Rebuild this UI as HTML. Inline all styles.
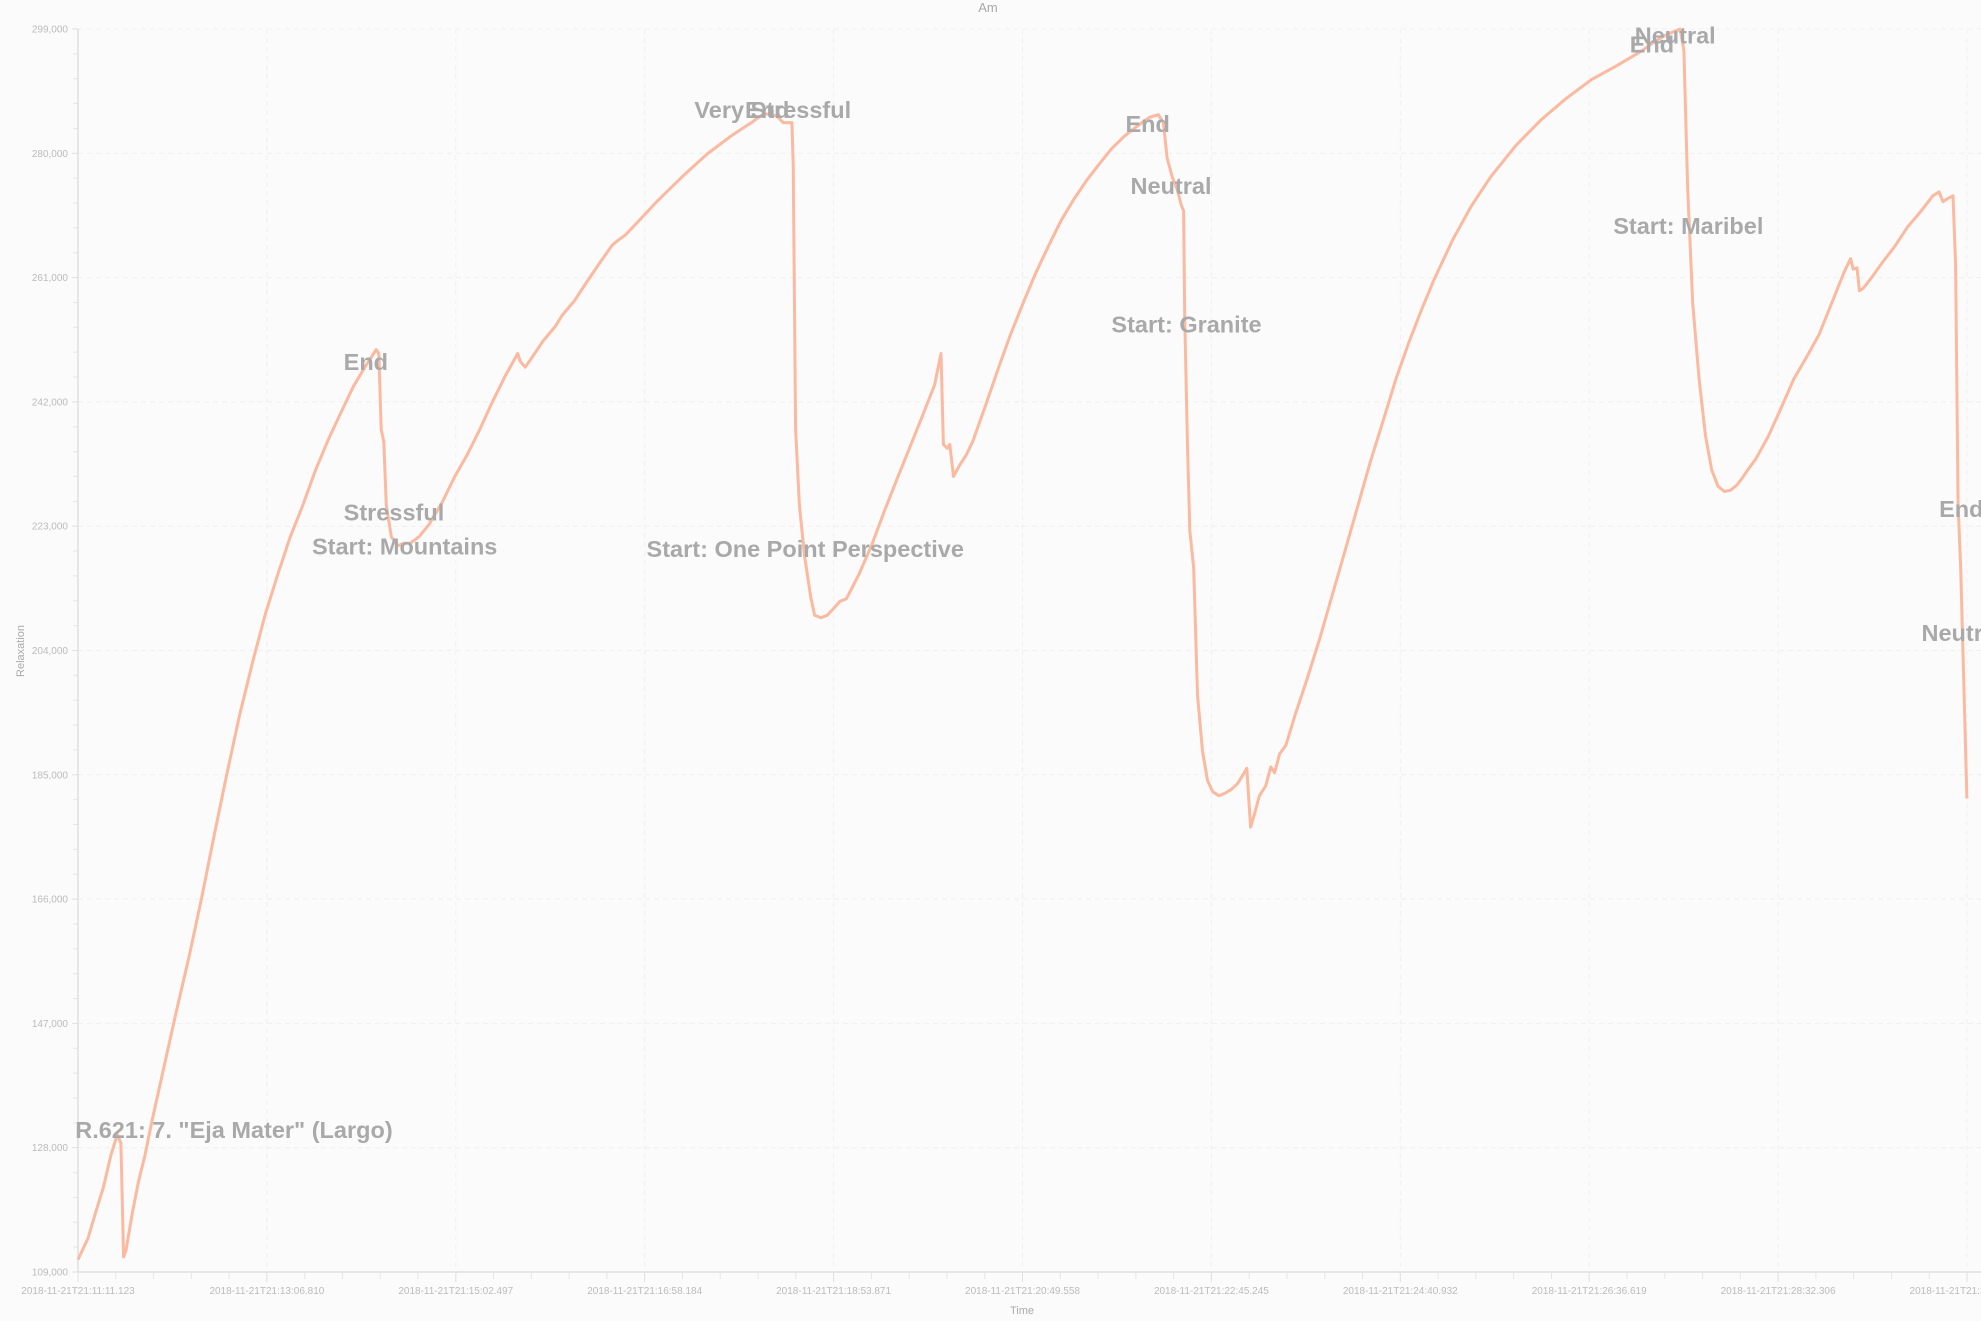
<!DOCTYPE html>
<html><head><meta charset="utf-8"><style>
html,body{margin:0;padding:0;background:#fbfbfb;}
svg{display:block;font-family:"Liberation Sans",sans-serif;}
</style></head><body>
<svg id="chart" width="1981" height="1321" viewBox="0 0 1981 1321" xmlns="http://www.w3.org/2000/svg">
<defs><clipPath id="plotclip"><rect x="73" y="0" width="1908" height="1321"/></clipPath></defs>
<rect width="1981" height="1321" fill="#fbfbfb"/>
<text x="988" y="12" text-anchor="middle" font-size="13" fill="#a8a8a8">Am</text>
<g id="grid"></g>
<g id="axes"></g>
<g id="series" clip-path="url(#plotclip)"></g>
<g id="annots" clip-path="url(#plotclip)"></g>
<text x="1022" y="1314" text-anchor="middle" font-size="11" fill="#aaa">Time</text>
<text x="24" y="651" text-anchor="middle" font-size="11" fill="#aaa" transform="rotate(-90 24 651)">Relaxation</text>
</svg>
<script>
const timeSec = [0,6.2,10.8,15.5,20.1,24.0,26.3,27.9,29.4,33.3,37.1,41.0,44.9,52.6,60.4,68.1,75.8,83.6,91.3,99.0,106.8,114.5,122.3,130.0,137.7,145.5,153.2,160.9,168.7,176.4,182.6,184.2,185.7,187.3,188.8,191.9,195.8,199.6,203.5,208.9,215.1,222.9,230.6,238.3,246.1,253.8,261.5,269.3,270.8,273.9,277.0,284.8,292.5,296.4,304.1,311.8,319.6,327.3,331.2,335.1,342.8,354.4,369.9,385.3,400.8,412.4,420.2,427.9,431.8,437.2,438.0,439.5,441.8,444.9,448.8,451.1,455.0,458.8,462.7,466.6,470.5,474.3,478.2,485.9,493.7,501.4,509.2,516.9,524.6,528.5,530.0,532.4,533.9,536.2,540.1,544.0,547.9,555.6,563.3,571.1,578.8,586.5,594.3,602.0,609.7,617.5,625.2,633.0,640.7,648.4,656.2,661.6,664.7,667.0,670.1,673.2,675.5,677.1,677.8,679.4,680.9,683.3,685.6,688.7,691.8,694.9,698.7,702.6,706.5,710.3,714.2,715.8,718.1,720.4,723.5,727.4,730.5,732.8,735.9,739.7,745.2,752.9,760.6,768.4,776.1,783.9,791.6,799.3,807.1,814.8,822.5,830.3,841.9,853.5,865.1,880.6,896.0,911.5,927.0,942.5,958.0,965.7,971.9,977.3,981.2,983.5,985.8,988.9,992.8,996.7,1000.5,1004.4,1008.3,1012.1,1016.0,1019.9,1023.7,1027.6,1035.3,1043.1,1050.8,1058.5,1066.3,1074.0,1081.7,1085.6,1087.2,1089.5,1091.0,1093.4,1097.2,1105.0,1112.7,1120.4,1128.2,1135.9,1139.8,1142.1,1145.2,1148.3,1149.9,1151.4,1153.0,1156.8];
const relaxK = [110.9,114.2,118.1,121.9,126.8,130.0,128.7,111.3,112.3,118.1,122.9,126.8,131.6,140.3,149.0,157.3,166.3,176.0,185.3,194.2,202.1,209.4,215.6,221.4,226.2,231.6,236.2,240.3,244.4,247.6,250.0,249.4,237.8,235.9,226.2,221.4,220.0,220.4,220.4,221.4,223.3,226.6,230.5,233.9,237.8,242.0,245.9,249.4,248.2,247.3,248.4,251.3,253.6,255.2,257.5,260.4,263.3,266.0,266.8,267.5,269.5,272.6,276.4,279.9,282.8,284.7,286.1,285.7,284.7,284.7,278.3,237.8,226.2,218.5,212.1,209.4,209.0,209.4,210.4,211.5,211.9,213.7,215.6,220.0,225.2,230.1,234.9,239.7,244.6,249.4,235.5,234.9,235.5,230.6,232.4,233.9,235.9,241.3,246.9,252.3,257.1,261.7,265.8,269.7,272.9,275.8,278.3,280.7,282.6,284.1,285.5,285.9,284.7,279.3,276.4,274.5,272.2,271.2,255.2,235.9,222.3,216.6,197.2,188.6,184.1,182.4,181.8,182.2,182.8,183.7,185.3,186.0,177.0,178.9,181.8,183.3,186.2,185.3,188.2,189.5,194.0,199.8,205.9,212.7,219.4,226.2,233.0,239.1,245.5,250.9,255.9,260.6,266.8,272.0,276.4,281.2,285.1,288.4,291.3,293.4,295.7,297.1,298.0,298.6,299.0,295.7,274.5,257.1,245.5,236.8,231.6,229.1,228.3,228.5,229.3,230.6,232.0,233.3,236.8,241.1,245.5,248.8,252.3,257.1,261.9,263.9,262.3,262.5,259.0,259.4,260.6,263.3,265.8,268.7,271.0,273.5,274.1,272.6,273.1,273.5,262.9,226.2,216.6,181.4];
const yTickValues = [109000,128000,147000,166000,185000,204000,223000,242000,261000,280000,299000];
const yTickLabels = ["109,000","128,000","147,000","166,000","185,000","204,000","223,000","242,000","261,000","280,000","299,000"];
const xTickSec = [0,115.687,231.374,347.061,462.748,578.435,694.122,809.809,925.496,1041.183,1156.87];
const xTickLabels = ["2018-11-21T21:11:11.123","2018-11-21T21:13:06.810","2018-11-21T21:15:02.497","2018-11-21T21:16:58.184","2018-11-21T21:18:53.871","2018-11-21T21:20:49.558","2018-11-21T21:22:45.245","2018-11-21T21:24:40.932","2018-11-21T21:26:36.619","2018-11-21T21:28:32.306","2018-11-21T21:30:27.993"];
const annotText = ['Vivaldi: Stabat Mater, R.621: 7. "Eja Mater" (Largo)',"End","Stressful","Start: Mountains","Very Stressful","End","Start: One Point Perspective","End","Neutral","Start: Granite","Neutral","End","Start: Maribel","End","Neutral"];
const annotSec = [192.7,162.7,162.7,143.3,377.5,408.5,348.2,641.5,644.6,632.9,953.4,950.3,940.2,1139.8,1129.0];
const annotValK = [130.7,248.1,225.1,219.9,286.6,286.6,219.5,284.5,275.0,253.8,298.0,296.6,268.9,225.6,206.7];
const annotAnchor = ["end","start","start","start","start","start","start","start","start","start","start","start","start","start","start"];

const NS="http://www.w3.org/2000/svg";
const X0=78,X1=1967,Y0=29,Y1=1272,T1=1156.87,VMIN=109000,VMAX=299000;
function xs(t){return X0+t/T1*(X1-X0);}
function ys(v){return Y0+(VMAX-v)/(VMAX-VMIN)*(Y1-Y0);}
function mk(tag,attrs,parent){const e=document.createElementNS(NS,tag);for(const k in attrs)e.setAttribute(k,attrs[k]);parent.appendChild(e);return e;}
const grid=document.getElementById('grid'),axes=document.getElementById('axes'),series=document.getElementById('series'),annots=document.getElementById('annots');

yTickValues.forEach((v,i)=>{
  const y=ys(v);
  if(i>0){const g=mk('line',{x1:X0,x2:1981,y1:y,y2:y,stroke:'#f0f0f0','stroke-dasharray':'5,4'},grid);
  
  }
  const t=mk('line',{x1:X0-6,x2:X0,y1:y,y2:y,stroke:'#e0e0e0'},axes);
  
  
  const l=mk('text',{x:X0-10,y:y+3.5,'text-anchor':'end','font-size':10,fill:'#bbb'},axes);
  l.textContent=yTickLabels[i];
  
  
  if(i<yTickValues.length-1){for(let k=1;k<5;k++){const yy=ys(v+k*(yTickValues[1]-yTickValues[0])/5);
    const m=mk('line',{x1:X0-5,x2:X0,y1:yy,y2:yy,stroke:'#e6e6e6'},axes);
    
    }}
});
xTickSec.forEach((s,i)=>{
  const x=xs(s);
  if(i>0){const g=mk('line',{x1:x,x2:x,y1:Y0,y2:Y1,stroke:'#f0f0f0','stroke-dasharray':'5,4'},grid);
  
  }
  const t=mk('line',{x1:x,x2:x,y1:Y1,y2:Y1+10,stroke:'#e0e0e0'},axes);
  
  
  const l=mk('text',{x:x,y:Y1+22,'text-anchor':'middle','font-size':10,fill:'#bbb'},axes);
  l.textContent=xTickLabels[i];
  
  
  if(i<xTickSec.length-1){for(let k=1;k<5;k++){const xx=xs(s+k*(xTickSec[1]-xTickSec[0])/5);
    const m=mk('line',{x1:xx,x2:xx,y1:Y1,y2:Y1+7,stroke:'#e6e6e6'},axes);
    
    }}
});
const ya=mk('line',{x1:X0,x2:X0,y1:Y0,y2:Y1,stroke:'#e0e0e0','stroke-width':1.5},axes);


const xa=mk('line',{x1:X0,x2:1981,y1:Y1,y2:Y1,stroke:'#e0e0e0','stroke-width':1.5},axes);



let d='';
timeSec.forEach((t,i)=>{d+=(i?'L':'M')+xs(t).toFixed(1)+','+ys(relaxK[i]*1000).toFixed(1);});
const p=mk('path',{d:d,fill:'none',stroke:'#fbb9a0','stroke-width':3,'stroke-linejoin':'round'},series);



annotText.forEach((s,i)=>{
  const t=mk('text',{x:xs(annotSec[i]),y:ys(annotValK[i]*1000)+8,'text-anchor':annotAnchor[i],'font-size':23.5,'font-weight':'bold',fill:'#a9a9a9'},annots);
  t.textContent=s;
  
  
});
</script>
</body></html>
